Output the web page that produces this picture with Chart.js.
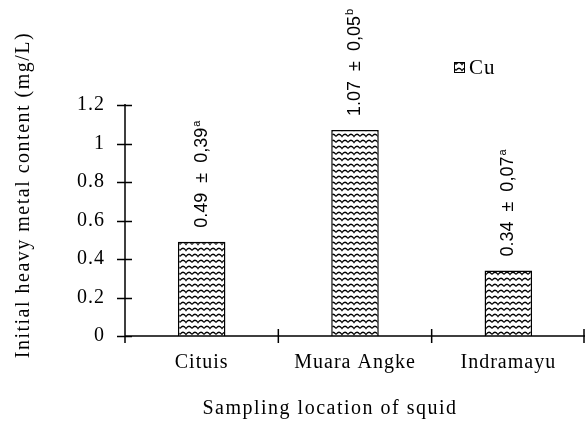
<!DOCTYPE html>
<html>
<head>
<meta charset="utf-8">
<script src="https://cdn.jsdelivr.net/npm/chart.js@4"></script>
<style>
    html, body { margin: 0; padding: 0; background: #fff; }
    #wrap { width: 585px; height: 425px; }
</style>
</head>
<body>
<div id="wrap"><canvas id="chart"></canvas></div>
<script>
const categories = ["Cituis", "Muara Angke", "Indramayu"];
const cuValues = [0.49, 1.07, 0.34];
const cuErrors = [0.39, 0.05, 0.07];
const cuLetters = ["a", "b", "a"];
const yTicks = [0, 0.2, 0.4, 0.6, 0.8, 1, 1.2];

const serif = "'Liberation Serif', 'Times New Roman', serif";
const sans = "'Liberation Sans', Arial, sans-serif";

// wavy hatch used in the bars
function makePattern() {
    const c = document.createElement("canvas");
    c.width = 12;
    c.height = 6;
    const g = c.getContext("2d");
    g.fillStyle = "#fff";
    g.fillRect(0, 0, 12, 6);
    g.strokeStyle = "#000";
    g.lineWidth = 1.3;
    g.beginPath();
    g.moveTo(0, 4.5);
    g.quadraticCurveTo(3, 0, 6, 4.5);
    g.quadraticCurveTo(9, 0, 12, 4.5);
    g.stroke();
    return g.createPattern(c, "repeat");
}
const wave = makePattern();

const extras = {
    id: "extras",
    beforeDraw(chart) {
        chart.ctx.letterSpacing = "1px";
    },
    afterDraw(chart) {
        const ctx = chart.ctx;
        const x = chart.scales.x, y = chart.scales.y;
        ctx.save();
        ctx.strokeStyle = "#000";
        ctx.lineWidth = 1.5;
        ctx.beginPath();
        // axes
        ctx.moveTo(x.left, y.top - 1);
        ctx.lineTo(x.left, y.bottom);
        ctx.moveTo(x.left, y.bottom);
        ctx.lineTo(x.right, y.bottom);
        // crossing tick marks on y
        yTicks.forEach(v => {
            const py = Math.round(y.getPixelForValue(v)) + 0.5;
            ctx.moveTo(x.left - 8, py);
            ctx.lineTo(x.left + 7, py);
        });
        // category boundaries on x
        const step = x.getPixelForValue(1) - x.getPixelForValue(0);
        for (let i = 0; i <= categories.length; i++) {
            const px = i === categories.length ? x.right - 1 : x.getPixelForValue(i) - step / 2;
            ctx.moveTo(px, y.bottom - 7);
            ctx.lineTo(px, y.bottom + 7);
        }
        ctx.stroke();

        // value labels, rotated
        const meta = chart.getDatasetMeta(0);
        ctx.letterSpacing = "0px";
        ctx.fillStyle = "#000";
        meta.data.forEach((bar, i) => {
            const main = cuValues[i].toFixed(2) + "  \u00b1  " + cuErrors[i].toFixed(2).replace(".", ",");
            ctx.save();
            ctx.translate(bar.x, bar.y - 14);
            ctx.rotate(-Math.PI / 2);
            ctx.font = "18px " + sans;
            ctx.textAlign = "left";
            ctx.textBaseline = "middle";
            ctx.fillText(main, 0, 0);
            const w = ctx.measureText(main).width;
            ctx.font = "11px " + sans;
            ctx.fillText(cuLetters[i], w + 1, -5);
            ctx.restore();
        });

        // legend
        ctx.letterSpacing = "1px";
        ctx.fillStyle = wave;
        ctx.fillRect(454, 62, 10, 10);
        ctx.lineWidth = 1;
        ctx.strokeRect(454.5, 62.5, 10, 10);
        ctx.fillStyle = "#000";
        ctx.font = "21px " + serif;
        ctx.textBaseline = "middle";
        ctx.textAlign = "left";
        ctx.fillText("Cu", 469, 68);

        // axis titles
        ctx.letterSpacing = "1.5px";
        ctx.font = "20px " + serif;
        ctx.textAlign = "center";
        ctx.fillText("Sampling location of squid", 330, 409);
        ctx.save();
        ctx.translate(24, 195);
        ctx.rotate(-Math.PI / 2);
        ctx.fillText("Initial heavy metal content (mg/L)", 0, 0);
        ctx.restore();
        ctx.restore();
    }
};

new Chart(document.getElementById("chart"), {
    type: "bar",
    data: {
        labels: categories,
        datasets: [{
            label: "Cu",
            data: cuValues,
            backgroundColor: wave,
            borderColor: "#000",
            borderWidth: 1.5,
            barPercentage: 0.31,
            categoryPercentage: 1
        }]
    },
    options: {
        responsive: true,
        maintainAspectRatio: false,
        animation: false,
        events: [],
        layout: { padding: { top: 105, right: 0, left: 0, bottom: 0 } },
        plugins: {
            legend: { display: false },
            tooltip: { enabled: false }
        },
        scales: {
            x: {
                grid: { display: false, drawTicks: false },
                border: { display: false },
                ticks: {
                    color: "#000",
                    font: { family: serif, size: 20 },
                    padding: 15,
                    maxRotation: 0
                },
                afterFit(s) { s.height = 89; }
            },
            y: {
                min: 0,
                max: 1.2,
                grid: { display: false, drawTicks: false },
                border: { display: false },
                ticks: {
                    stepSize: 0.2,
                    color: "#000",
                    font: { family: serif, size: 20 },
                    padding: 20,
                    callback: v => Math.round(v * 10) / 10
                },
                afterFit(s) { s.width = 125; }
            }
        }
    },
    plugins: [extras]
});
</script>
</body>
</html>
